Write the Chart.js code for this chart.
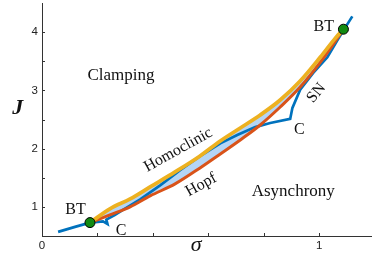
<!DOCTYPE html>
<html>
<head>
<meta charset="utf-8">
<script src="https://cdn.jsdelivr.net/npm/chart.js@4/dist/chart.umd.min.js"></script>
<style>
  html, body { margin: 0; padding: 0; background: #fff; }
  #wrap { width: 372px; height: 257px; position: relative; }
</style>
</head>
<body>
<div id="wrap"><canvas id="chart"></canvas></div>
<script>
// saddle-node curve (blue), runs BT -> lower cusp -> upper cusp -> BT
const snSigma = [0.058, 0.119, 0.173, 0.220, 0.236, 0.232, 0.262, 0.289, 0.354, 0.426, 0.498, 0.570, 0.643, 0.704, 0.769, 0.823, 0.895, 0.903, 0.931, 0.978, 1.029, 1.065, 1.087, 1.119];
const snJ     = [0.571, 0.657, 0.730, 0.750, 0.705, 0.780, 0.860, 0.940, 1.130, 1.370, 1.630, 1.870, 2.090, 2.235, 2.370, 2.440, 2.510, 2.700, 3.010, 3.300, 3.570, 3.860, 4.030, 4.270];

// homoclinic (yellow)
const homSigma = [0.173, 0.245, 0.318, 0.390, 0.480, 0.570, 0.643, 0.715, 0.787, 0.859, 0.931, 1.004, 1.058, 1.087];
const homJ     = [0.730, 0.966, 1.137, 1.343, 1.600, 1.874, 2.131, 2.354, 2.577, 2.834, 3.160, 3.572, 3.897, 4.050];

// Hopf (orange)
const hopfSigma = [0.173, 0.245, 0.318, 0.390, 0.480, 0.570, 0.643, 0.715, 0.787, 0.859, 0.931, 1.004, 1.058, 1.087];
const hopfJ     = [0.730, 0.863, 1.000, 1.189, 1.394, 1.669, 1.909, 2.149, 2.406, 2.714, 3.057, 3.486, 3.846, 4.050];

// Bogdanov-Takens points
const btSigma = [0.173, 1.087];
const btJ     = [0.730, 4.050];

const xTickValues = [0, 0.2, 0.4, 0.6, 0.8, 1.0];
const xTickLabels = ["0", "", "", "", "", "1"];
const yTickValues = [1, 1.5, 2, 2.5, 3, 3.5, 4];
const yTickLabels = ["1", "", "2", "", "3", "", "4"];

// region annotations: [text, sigma, J, rotation deg, font, baseline]
const notes = [
  ["Clamping",   0.285, 3.177, 0,   "17px 'Liberation Serif'", "alphabetic"],
  ["Asynchrony", 0.906, 1.189, 0,   "17px 'Liberation Serif'", "alphabetic"],
  ["Homoclinic", 0.491, 1.977, -29, "16px 'Liberation Serif'", "middle"],
  ["Hopf",       0.574, 1.377, -29, "16px 'Liberation Serif'", "middle"],
  ["BT",         0.121, 0.880, 0,   "16px 'Liberation Serif'", "alphabetic"],
  ["C",          0.285, 0.520, 0,   "16px 'Liberation Serif'", "alphabetic"],
  ["C",          0.928, 2.250, 0,   "16px 'Liberation Serif'", "alphabetic"],
  ["BT",         1.016, 4.017, 0,   "16px 'Liberation Serif'", "alphabetic"],
  ["SN",         0.989, 2.954, -50, "16px 'Liberation Serif'", "middle"],
  ["J",         -0.087, 2.700, 0,   "bold italic 22px 'Liberation Serif'", "middle"],
  ["σ",          0.556, 0.349, 0,   "italic 22px 'Liberation Serif'", "middle"],
];

const pts = (xs, ys) => xs.map((x, i) => ({ x, y: ys[i] }));

// bistable band: homoclinic on top, Hopf back underneath
const bandPts = pts(homSigma, homJ).concat(pts(hopfSigma, hopfJ).reverse());

const near = (v, arr) => arr.findIndex((a) => Math.abs(a - v) < 1e-6);

const inwardTicks = {
  id: "inwardTicks",
  afterDraw(chart) {
    const { ctx, scales: { x, y } } = chart;
    ctx.save();
    ctx.strokeStyle = "#333";
    ctx.lineWidth = 1;
    ctx.beginPath();
    for (const v of xTickValues) {
      if (v === 0) continue;
      const px = Math.round(x.getPixelForValue(v)) + 0.5;
      ctx.moveTo(px, y.bottom);
      ctx.lineTo(px, y.bottom - 3);
    }
    for (const v of yTickValues) {
      const py = Math.round(y.getPixelForValue(v)) + 0.5;
      ctx.moveTo(x.left, py);
      ctx.lineTo(x.left + 3, py);
    }
    ctx.stroke();
    ctx.restore();
  },
};

const annotations = {
  id: "annotations",
  afterDraw(chart) {
    const { ctx, scales: { x, y } } = chart;
    ctx.save();
    ctx.fillStyle = "#111";
    ctx.textAlign = "center";
    for (const [txt, sx, sy, rot, font, base] of notes) {
      ctx.save();
      ctx.translate(x.getPixelForValue(sx), y.getPixelForValue(sy));
      ctx.rotate((rot * Math.PI) / 180);
      ctx.font = font;
      ctx.textBaseline = base;
      ctx.fillText(txt, 0, 0);
      ctx.restore();
    }
    ctx.restore();
  },
};

new Chart(document.getElementById("chart"), {
  type: "scatter",
  data: {
    datasets: [
      {
        label: "band",
        data: bandPts,
        showLine: true,
        fill: "shape",
        backgroundColor: "#b4d5f6",
        borderWidth: 0,
        pointRadius: 0,
        order: 5,
      },
      {
        label: "SN",
        data: pts(snSigma, snJ),
        showLine: true,
        borderColor: "#0072BD",
        borderWidth: 2.7,
        pointRadius: 0,
        tension: 0,
        order: 4,
      },
      {
        label: "Hopf",
        data: pts(hopfSigma, hopfJ),
        showLine: true,
        borderColor: "#D95319",
        borderWidth: 3,
        pointRadius: 0,
        cubicInterpolationMode: "monotone",
        order: 3,
      },
      {
        label: "Homoclinic",
        data: pts(homSigma, homJ),
        showLine: true,
        borderColor: "#EDB120",
        borderWidth: 3.8,
        pointRadius: 0,
        cubicInterpolationMode: "monotone",
        order: 2,
      },
      {
        label: "BT",
        data: pts(btSigma, btJ),
        showLine: false,
        pointRadius: 5,
        backgroundColor: "#118a11",
        borderColor: "#000",
        borderWidth: 1,
        order: 1,
      },
    ],
  },
  options: {
    responsive: true,
    maintainAspectRatio: false,
    animation: false,
    layout: { autoPadding: false, padding: { top: 3, right: 0, left: 0, bottom: 0 } },
    plugins: { legend: { display: false }, tooltip: { enabled: false } },
    scales: {
      x: {
        type: "linear",
        min: 0,
        max: 1.19,
        afterFit: (s) => { s.height = 21; s.paddingLeft = 0; s.paddingRight = 0; },
        afterBuildTicks: (s) => { s.ticks = xTickValues.map((value) => ({ value })); },
        ticks: {
          autoSkip: false,
          maxRotation: 0,
          padding: 3,
          color: "#222",
          font: { family: "'Liberation Sans'", size: 11.5 },
          callback: (v) => { const i = near(v, xTickValues); return i < 0 ? "" : xTickLabels[i]; },
        },
        grid: { display: false, drawTicks: false },
        border: { display: true, color: "#333", width: 1 },
      },
      y: {
        type: "linear",
        min: 0.5,
        max: 4.5,
        afterFit: (s) => { s.width = 42; s.paddingTop = 0; s.paddingBottom = 0; },
        afterBuildTicks: (s) => { s.ticks = yTickValues.map((value) => ({ value })); },
        ticks: {
          autoSkip: false,
          padding: 4,
          color: "#222",
          font: { family: "'Liberation Sans'", size: 11.5 },
          callback: (v) => { const i = near(v, yTickValues); return i < 0 ? "" : yTickLabels[i]; },
        },
        grid: { display: false, drawTicks: false },
        border: { display: true, color: "#333", width: 1 },
      },
    },
  },
  plugins: [inwardTicks, annotations],
});
</script>
</body>
</html>
